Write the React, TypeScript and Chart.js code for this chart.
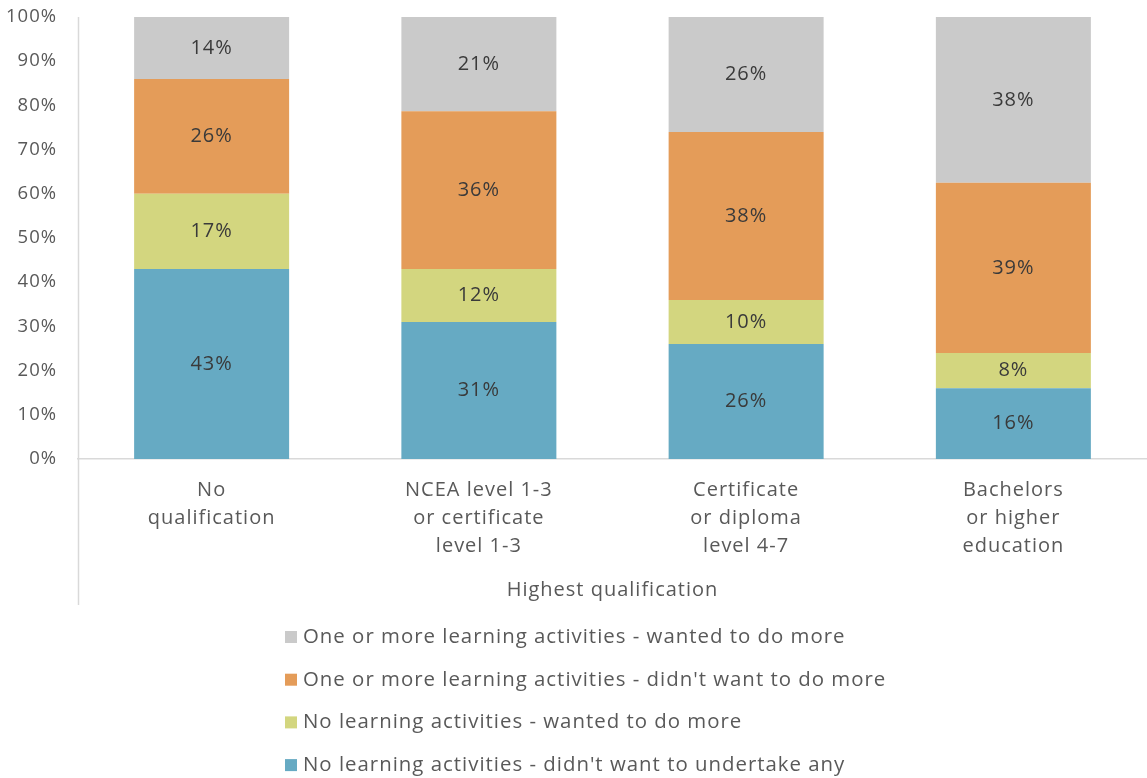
import React, { useEffect, useRef } from "react";
import { Chart, registerables } from "chart.js";

Chart.register(...registerables);

const categories: string[][] = [
  ["No", "qualification"],
  ["NCEA level 1-3", "or certificate", "level 1-3"],
  ["Certificate", "or diploma", "level 4-7"],
  ["Bachelors", "or higher", "education"],
];

const noActivitiesNoWant = [43, 31, 26, 16];
const noActivitiesWanted = [17, 12, 10, 8];
const someActivitiesNoMore = [26, 35.7, 38, 38.5];
const someActivitiesWantedMore = [14, 21.3, 26, 37.5];

const seriesNames = [
  "No learning activities - didn't want to undertake any",
  "No learning activities - wanted to do more",
  "One or more learning activities - didn't want to do more",
  "One or more learning activities - wanted to do more",
];
const seriesColors = ["#66AAC3", "#D3D67F", "#E49C59", "#CACACA"];

const yTicks = [0, 10, 20, 30, 40, 50, 60, 70, 80, 90, 100];
const xTitle = "Highest qualification";

const FONT = "'Open Sans', sans-serif";

const spacingPlugin = {
  id: "spacing",
  beforeUpdate(chart: any) {
    chart.ctx.letterSpacing = "1px";
  },
  beforeLayout(chart: any) {
    chart.ctx.letterSpacing = "1px";
  },
  beforeDraw(chart: any) {
    chart.ctx.letterSpacing = "1px";
  },
};

const labelsPlugin = {
  id: "segLabels",
  afterDatasetsDraw(chart: any) {
    const ctx = chart.ctx;
    ctx.save();
    ctx.font = `20px ${FONT}`;
    ctx.fillStyle = "#3A3A3A";
    ctx.textAlign = "center";
    ctx.textBaseline = "middle";
    chart.data.datasets.forEach((ds: any, di: number) => {
      const meta = chart.getDatasetMeta(di);
      meta.data.forEach((bar: any, i: number) => {
        const v = ds.data[i];
        const y = (bar.y + bar.base) / 2;
        ctx.fillText(Math.round(v) + "%", bar.x, y);
      });
    });
    ctx.restore();
  },
};

const decorPlugin = {
  id: "decor",
  afterDraw(chart: any) {
    const ctx = chart.ctx;
    const area = chart.chartArea;
    const xs = chart.scales.x;
    ctx.save();
    ctx.strokeStyle = "#D9D9D9";
    ctx.lineWidth = 1.5;
    ctx.beginPath();
    ctx.moveTo(area.left + 0.5, area.top);
    ctx.lineTo(area.left + 0.5, xs.bottom);
    ctx.stroke();
    const items = seriesNames.map((n, i) => ({ n, c: seriesColors[i] })).reverse();
    ctx.font = `20.4px ${FONT}`;
    ctx.textBaseline = "middle";
    ctx.textAlign = "left";
    const left = 285;
    const startY = xs.bottom + 32;
    const gap = 42.7;
    items.forEach((it, i) => {
      const y = startY + i * gap;
      ctx.fillStyle = it.c;
      ctx.fillRect(left, y - 6, 12, 12);
      ctx.fillStyle = "#595959";
      ctx.fillText(it.n, left + 18, y);
    });
    ctx.restore();
  },
};

export default function App() {
  const ref = useRef<HTMLCanvasElement | null>(null);
  useEffect(() => {
    document.body.style.margin = "0";
    const values = [noActivitiesNoWant, noActivitiesWanted, someActivitiesNoMore, someActivitiesWantedMore];
    const chart = new Chart(ref.current as HTMLCanvasElement, {
      type: "bar",
      data: {
        labels: categories as any,
        datasets: values.map((d, i) => ({
          label: seriesNames[i],
          data: d,
          backgroundColor: seriesColors[i],
          borderWidth: 0,
          categoryPercentage: 1,
          barPercentage: 0.58,
        })),
      },
      options: {
        animation: false,
        responsive: false,
        maintainAspectRatio: false,
        layout: { padding: { top: 17, bottom: 173, left: 0, right: 0 } },
        plugins: {
          legend: { display: false },
          tooltip: { enabled: false },
        },
        scales: {
          x: {
            stacked: true,
            grid: { display: false, drawTicks: false },
            border: { display: true, color: "#D9D9D9", width: 1.5 },
            ticks: {
              color: "#595959",
              font: { family: FONT, size: 20, lineHeight: 1.4 },
              padding: 17,
              maxRotation: 0,
              autoSkip: false,
            },
            title: {
              display: true,
              text: xTitle,
              color: "#595959",
              font: { family: FONT, size: 20, lineHeight: 1.2 },
              padding: { top: 0, bottom: 3 },
            },
            afterFit(scale: any) {
              scale.height = 146;
            },
          },
          y: {
            stacked: true,
            min: 0,
            max: 100,
            afterBuildTicks(scale: any) {
              scale.ticks = yTicks.map((v) => ({ value: v }));
            },
            grid: { display: false, drawTicks: true, tickLength: 21 },
            border: { display: false },
            ticks: {
              color: "#595959",
              font: { family: FONT, size: 18.5 },
              padding: 0,
              callback: (v: any) => v + "%",
            },
            afterFit(scale: any) {
              scale.width = 78;
            },
          },
        },
      },
      plugins: [spacingPlugin, labelsPlugin, decorPlugin],
    });
    return () => chart.destroy();
  }, []);
  return (
    <div style={{ position: "absolute", left: 0, top: 0, width: 1147, height: 778 }}>
      <canvas ref={ref} width={1147} height={778} style={{ width: 1147, height: 778 }} />
    </div>
  );
}
